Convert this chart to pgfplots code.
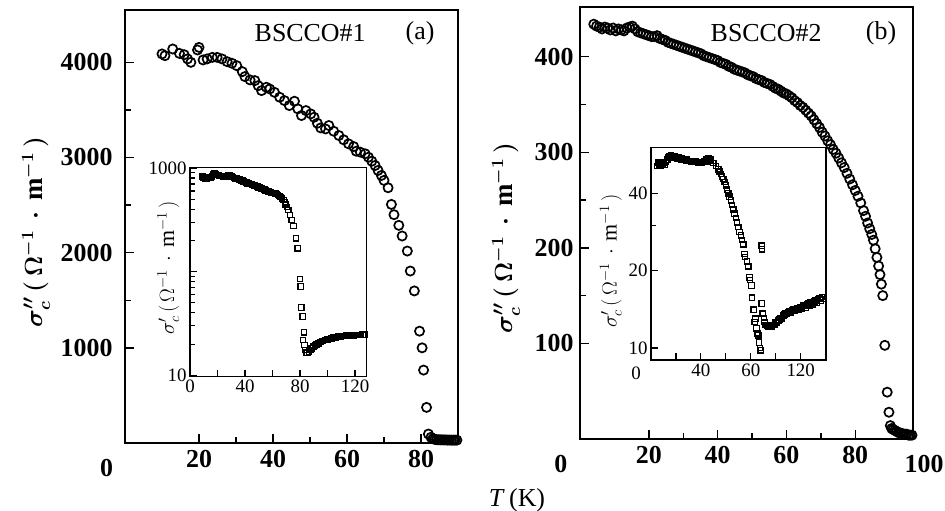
\documentclass[border=0pt]{standalone}
\usepackage{fontspec}
\setmainfont{Liberation Serif}
\usepackage{pgfplots}
\pgfplotsset{compat=1.18}

\pgfplotsset{
  frame/.style={
    scale only axis,
    axis line style={line width=1.6bp},
    tick style={line width=1.4bp, black},
    tick align=inside, tick pos=left,
    major tick length=9bp, minor tick length=6bp,
    /pgf/number format/assume math mode=true,
    /pgf/number format/1000 sep={},
    axis background/.style={fill=white},
    clip=false,
  },
  big/.style={frame,
    ticklabel style={font=\fontsize{26}{28}\selectfont\bfseries},
    xticklabel style={yshift=-4bp},
    ylabel style={font=\fontsize{27}{29}\selectfont\boldmath, anchor=south, inner sep=0pt},
  },
  small/.style={frame,
    major tick length=7bp, minor tick length=4.5bp,
    tick style={line width=1.1bp, black},
    axis line style={line width=1.3bp},
    ticklabel style={font=\fontsize{19}{21}\selectfont},
    ylabel style={font=\fontsize{22}{24}\selectfont, anchor=south, inner sep=0pt},
  },
  circ/.style={only marks, mark=o, mark size=4.6bp, mark options={line width=1.7bp, black}},
  sq/.style={only marks, mark=square, mark size=2.7bp, mark options={line width=1.2bp, black}},
}

\begin{document}
\begin{tikzpicture}[x=1bp,y=1bp]
\useasboundingbox (0,0) rectangle (945,511);

% ---------- panel (a) ----------
\begin{axis}[big, at={(125bp,68bp)}, anchor=south west,
  width=333bp, height=433bp,
  xmin=0, xmax=90, ymin=0, ymax=4550,
  xtick={20,40,60,80}, minor x tick num=1,
  ytick={1000,2000,3000,4000}, minor y tick num=1,
  yticklabel style={xshift=-9bp},
  ylabel={$\sigma''_c\,(\,\Omega^{-1}\,\cdot\,\mathrm{m}^{-1}\,)$},
  ylabel style={at={(axis description cs:-0.225,0.487)}},
]
\addplot[circ] coordinates {
(10,4088)(10.8,4070)(12.9,4140)(14.7,4094)(16,4080)(16.9,4036)(17.8,4000)
(19.6,4130)(20,4157)(21.1,4025)(22.2,4036)(23.6,4052)(24.9,4052)(26.2,4036)
(27.6,4007)(28.9,3990)(30.2,3965)(31.7,3902)(32.4,3850)(33.8,3815)(35.1,3808)
(36,3755)(36.9,3703)(38.2,3738)(39.1,3720)(40.4,3685)(41.8,3633)(43.1,3598)
(44.4,3546)(45.8,3591)(46.7,3511)(47.7,3441)(48.9,3493)(50.2,3458)(51.1,3423)
(52,3360)(52.9,3311)(54.2,3300)(55.1,3336)(56.4,3276)(57.8,3231)(59.1,3186)
(60.4,3144)(61.8,3115)(62.5,3066)(63.6,3056)(64.9,3039)(65.8,3003)(66.7,2961)
(67.6,2916)(68.4,2864)(69.3,2811)(70,2759)(71.1,2682)(72,2507)(72.7,2399)
(74,2287)(74.9,2175)(76.3,2017)(77.1,1807)(78.2,1598)(79.6,1175)(80.3,1000)
(80.7,766)(81.5,374)(82,94)(82.7,60)(83.2,45)(83.7,38)(84.2,35)(84.7,34)
(85.2,33)(85.7,33)(86.2,32)(86.7,32)(87.2,31)(87.7,31)(88.2,30)(88.7,30)(89.2,30)(89.7,30)
};
\node[font=\fontsize{26}{28}\selectfont] at (axis description cs:0.556,0.947) {BSCCO\#1};
\node[font=\fontsize{26}{28}\selectfont] at (axis description cs:0.886,0.947) {(a)};
\node[font=\fontsize{26}{28}\selectfont\bfseries, anchor=north, yshift=-12.7bp] at (axis cs:-5,0) {0};
\end{axis}

% ---------- inset (a) ----------
\begin{axis}[small, at={(190bp,134.3bp)}, anchor=south west,
  width=176.7bp, height=209.4bp,
  xmin=0, xmax=128.5, ymode=log, ymin=9.7, ymax=1015,
  xtick={0,20,...,120}, xticklabels={0,,40,,80,,120},
  ytick={10,100,1000}, yticklabels={10,,1000},
  minor ytick={20,30,40,50,60,70,80,90,200,300,400,500,600,700,800,900},
  ylabel={$\sigma'_c\,(\,\Omega^{-1}\,\cdot\,\mathrm{m}^{-1}\,)$},
  ylabel style={at={(axis description cs:-0.06,0.52)}},
]
\addplot[sq] coordinates {
(9,825)(10,810)(11,790)(12,783)(13,800)(14,815)(15,813)(16,830)(17,860)(18,890)
(19,870)(20,856)(21,845)(22,835)(23,840)(24,830)(25,825)(26,820)(27,830)(28,845)
(29,856)(30,830)(31,815)(32,800)(33,796)(34,790)(35,780)(36,770)(37,760)(38,755)
(39,745)(40,735)(41,725)(42,711)(43,705)(44,700)(45,690)(46,685)(47,676)(48,668)
(49,660)(50,652)(51,645)(52,637)(53,628)(54,620)(55,610)(56,600)(57,590)(58,585)
(59,580)(60,575)(61,572)(62,570)(63,560)(64,550)(65,537)(66,525)(67,510)(68,491)
(69,465)(69.6,447)(70.5,420)(71.5,394)(72.7,352)(73.9,315)(75.2,276)(77.1,210)
(78.3,168)(80,85)(80.5,72)(81,45)(81.9,37)(82.9,26)(82.2,21.9)(83.2,19.6)(84,17.5)
(84.8,16.6)(85.5,16.4)(86.5,17)(87.5,17.5)(88.5,18.2)(89.6,18.9)(91,19.5)(92,19.9)
(93.3,20.4)(95,21)(96.5,21.4)(98.2,21.9)(100,22.3)(101.5,22.5)(103,22.8)(104.5,23.1)
(106,23.3)(107.9,23.6)(109.5,23.8)(111,23.9)(112.7,24)(114,24.1)(115.5,24.1)
(117.6,24.2)(119,24.3)(120.5,24.4)(122.4,24.5)(124,24.5)(125.5,24.6)(127.3,24.6)
};
\end{axis}

% ---------- panel (b) ----------
\begin{axis}[big, at={(580bp,72bp)}, anchor=south west,
  width=333bp, height=432bp,
  xmin=0, xmax=96.8, ymin=0, ymax=452,
  xtick={20,40,60,80}, minor x tick num=1,
  ytick={100,200,300,400}, minor y tick num=1,
  yticklabel style={xshift=-3bp},
  ylabel={$\sigma''_c\,(\,\Omega^{-1}\,\cdot\,\mathrm{m}^{-1}\,)$},
  ylabel style={at={(axis description cs:-0.18,0.465)}},
]
\addplot[circ] coordinates {
(4,434)(4.8,432)(5.6,431)(6.4,429)(7.2,431)(8,430)(8.8,428)(9.6,430)(10.4,427)
(11.2,429)(12,428)(12.8,427)(13.6,430)(14.4,431)(15.2,432)(16,429)(16.8,426)
(17.6,425)(18.4,424)(19.2,423)(20,422)(20.8,421)(21.6,421)(22.4,422)(23.2,419)
(24,418)(24.8,417)(25.6,415)(26.4,414)(27.2,413)(28,412)(28.8,411)(29.6,410)
(30.4,409)(31.2,408)(32,407)(32.8,406)(33.6,405)(34.4,404)(35.2,403)(36,401)
(36.8,400)(37.6,399)(38.4,398)(39.2,397)(40,396)(40.8,394)(41.6,393)(42.4,392)
(43.2,390)(44,389)(44.8,387)(45.6,386)(46.4,385)(47.2,384)(48,383)(48.8,381)
(49.6,380)(50.4,379)(51.2,377)(52,376)(52.8,375)(53.6,373)(54.4,372)(55.2,371)
(56,369)(56.8,367)(57.6,366)(58.4,364)(59.2,362)(60,361)(60.8,359)(61.6,357)
(62.4,354)(63.2,352)(64,349)(64.8,347)(65.6,344)(66.4,341)(67.2,338)(68,334)
(68.8,330)(69.6,326)(70.4,321)(71.2,317)(72,312)(72.8,308)(73.6,303)(74.4,299)
(75.2,294)(76,289)(76.8,284)(77.6,278)(78.4,272)(79.2,266)(80,260)(80.8,254)
(81.6,247)(82.4,239)(83,233)(83.6,226)(84.2,220)(84.8,214)(85.3,208)(85.8,199)
(86.3,190)(86.8,181)(87.2,172)(87.6,162)(88,150)(88.6,98)(89.3,49)(89.8,28)
(90.2,14)(90.6,11)(91,10)(91.5,9)(92,8)(92.5,7)(93,6)(93.5,6)(94,5)(94.5,5)
(95,5)(95.5,4)(96,4)(96.5,4)
};
\node[font=\fontsize{26}{28}\selectfont] at (axis description cs:0.559,0.94) {BSCCO\#2};
\node[font=\fontsize{26}{28}\selectfont] at (axis description cs:0.904,0.94) {(b)};
\node[font=\fontsize{26}{28}\selectfont\bfseries, anchor=north, yshift=-12.7bp] at (axis cs:-5.6,0) {0};
\node[font=\fontsize{26}{28}\selectfont\bfseries, anchor=north, yshift=-12.7bp] at (axis cs:100,0) {100};
\end{axis}

% ---------- inset (b) ----------
\begin{axis}[small, at={(651bp,151bp)}, anchor=south west,
  width=175bp, height=212.7bp,
  xmin=0, xmax=140.3, ymode=log, ymin=8.98, ymax=60.4,
  xtick={20,40,...,120}, xticklabels={,40,,60,,120},
  ytick={10,20,40}, yticklabels={10,20,40},
  minor ytick={30},
  ylabel={$\sigma'_c\,(\,\Omega^{-1}\,\cdot\,\mathrm{m}^{-1}\,)$},
  ylabel style={at={(axis description cs:-0.166,0.465)}},
]
\addplot[sq] coordinates {
(5,51)(5.5,52.5)(6,53)(6.5,51.5)(7,52)(7.5,53)(8,51)(9,52)(10,52.5)(11,51.5)
(12,53)(13,54)(14,55)(15,55.5)(16,56)(17,55.5)(18,55)(19,55.5)(20,55)(21,54.5)
(22,55)(23,54.5)(24,54)(25,54.5)(26,54)(27,54)(28,53.5)(29,54)(30,53.5)(31,53.5)
(32,53)(33,53.5)(34,53)(35,53)(36,53.5)(37,53)(38,52.5)(39,53)(40,53)(41,52.5)
(42,53)(43,53.5)(44,54)(45,53)(46,54.5)(47,53.5)(48,54)(50,52.5)(52,51)(54,49.5)
(55,48.5)(56,47.5)(57,46.5)(58,45.5)(59,44.3)(60,43)(61,41.4)(62,40)(63,38.8)
(64,37.5)(65,36)(66,34.5)(67,33.3)(68,32)(69,30.8)(70,29.6)(71,28.3)(72,27.4)
(73,26.3)(74,25.3)(75,23.2)(75.5,22.6)(77,21.7)(78,20.8)(79,18.8)(79.5,18.4)
(80.5,17.5)(81,15.7)(82.4,14.1)(83.2,12.6)(83.8,13)(84.5,11.9)(85.2,11.4)(86,11.2)
(86.6,10.5)(87.3,10)(88,9.8)(88.8,25)(89,24.2)(88.8,14.9)(89.6,13.6)(90.5,13.1)
(91,12.6)(92,12.3)(93,12.2)(94,12.1)(95,12.1)(96,12.2)(97,12.1)(98,12.3)(99,12.3)
(100,12.6)(101,12.5)(102,12.8)(103,12.9)(104,13.1)(105,13)(106,13.4)(107,13.5)
(108,13.7)(109,13.6)(110,13.8)(111,13.9)(112,13.7)(113,14)(114,14.1)(115,14)
(116,14.2)(117,14.3)(118,14.1)(119,14.3)(120,14.4)(121,14.2)(122,14.6)(123,14.7)
(124,14.3)(125,14.8)(126,14.9)(127,14.6)(128,15)(129,15.1)(130,14.8)(131,15.2)
(132,15.4)(133,15)(134,15.5)(135,15.6)(136,15.3)(137,15.8)(138,15.5)
};
\node[font=\fontsize{19}{21}\selectfont, anchor=north, yshift=-3bp] at (axis cs:-12,8.98) {0};
\end{axis}

\node[font=\fontsize{26}{28}\selectfont] at (517,11) {\textit{T}\,(K)};
\end{tikzpicture}
\end{document}
